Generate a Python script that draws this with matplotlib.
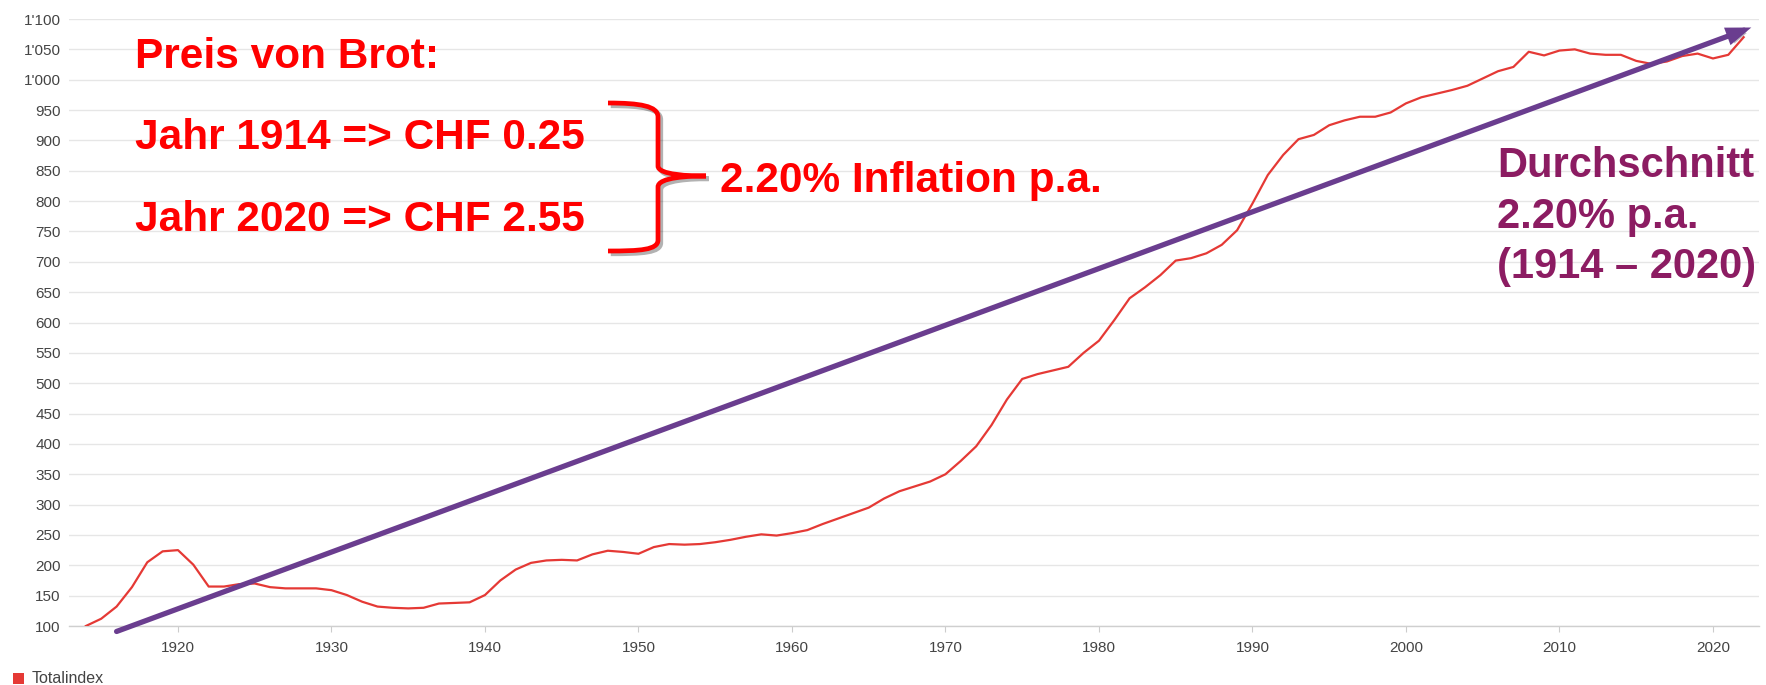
import matplotlib
matplotlib.use("Agg")
import matplotlib.pyplot as plt
import matplotlib.patheffects as pe
from matplotlib.path import Path
from matplotlib.patches import PathPatch, Rectangle
from matplotlib.ticker import FuncFormatter

# Landesindex der Konsumentenpreise, Totalindex (1914 = 100)
years = list(range(1914, 2023))
totalindex = [
    100, 112, 132, 164, 205, 223, 225, 201, 165, 165,   # 1914-1923
    169, 170, 164, 162, 162, 162, 159, 151, 140, 132,   # 1924-1933
    130, 129, 130, 137, 138, 139, 151, 175, 193, 204,   # 1934-1943
    208, 209, 208, 218, 224, 222, 219, 230, 235, 234,   # 1944-1953
    235, 238, 242, 247, 251, 249, 253, 258, 268, 277,   # 1954-1963
    286, 295, 310, 322, 330, 338, 350, 372, 396, 431,   # 1964-1973
    473, 507, 515, 521, 527, 550, 570, 604, 640, 658,   # 1974-1983
    678, 702, 706, 714, 728, 752, 796, 843, 876, 902,   # 1984-1993
    909, 925, 933, 939, 939, 946, 961, 971, 977, 983,   # 1994-2003
    990, 1002, 1014, 1021, 1046, 1040, 1048, 1050, 1043, 1041,  # 2004-2013
    1041, 1031, 1026, 1030, 1039, 1043, 1035, 1041, 1070,       # 2014-2022
]
y_ticks = list(range(100, 1101, 50))
x_ticks = [1920, 1930, 1940, 1950, 1960, 1970, 1980, 1990, 2000, 2010, 2020]
series_label = "Totalindex"

# Durchschnittspfeil (von Hand eingezeichnet)
trend_start = (1916.0, 91)
trend_end = (2022.5, 1086)

RED = "#e53935"
PURPLE = "#6a3d8f"
ANN_RED = "#ff0000"
MAGENTA = "#8c1c62"
FONT = "Liberation Sans"

W, H = 1766, 685
fig = plt.figure(figsize=(W / 100, H / 100), dpi=100)
fx = lambda x: x / W
fy = lambda y: 1 - y / H

ax = fig.add_axes([fx(69), fy(626), (1759 - 69) / W, (626 - 19) / H])
ax.plot(years, totalindex, color=RED, lw=1.6, zorder=3, solid_joinstyle="round")
ax.set_xlim(1912.9, 2023.0)
ax.set_ylim(100, 1100)
ax.set_yticks(y_ticks)
ax.set_xticks(x_ticks)
ax.yaxis.set_major_formatter(FuncFormatter(lambda v, p: f"{int(v):,}".replace(",", "'")))
ax.grid(axis="y", color="#e6e6e6", lw=1.0, zorder=0)
for s in ["top", "right", "left"]:
    ax.spines[s].set_visible(False)
ax.spines["bottom"].set_color("#cfcfcf")
ax.spines["bottom"].set_linewidth(1.0)
ax.tick_params(axis="y", length=0, pad=6, labelsize=11, labelcolor="#444444")
ax.tick_params(axis="x", length=4, width=0.8, color="#cccccc", pad=7,
               labelsize=11, labelcolor="#444444")
for lab in ax.get_xticklabels() + ax.get_yticklabels():
    lab.set_fontfamily(FONT)

# Pfeil mit Schatten
ax.annotate("", xy=trend_end, xytext=trend_start, annotation_clip=False,
            arrowprops=dict(arrowstyle="-|>,head_length=0.55,head_width=0.2",
                            color=PURPLE, lw=3.8, shrinkA=0, shrinkB=0,
                            mutation_scale=20, joinstyle="miter",
                            path_effects=[pe.SimplePatchShadow(offset=(2, -2), alpha=0.3),
                                          pe.Normal()]),
            zorder=5)

# Texte
red_kw = dict(color=ANN_RED, fontsize=30.5, fontweight="bold", family=FONT, va="baseline")
fig.text(fx(135), fy(68), "Preis von Brot:", **red_kw)
fig.text(fx(135), fy(149), "Jahr 1914 => CHF 0.25", **red_kw)
fig.text(fx(135), fy(231), "Jahr 2020 => CHF 2.55", **red_kw)
fig.text(fx(720), fy(192), "2.20% Inflation p.a.", **red_kw)

mag_kw = dict(color=MAGENTA, fontsize=30, fontweight="bold", family=FONT, va="baseline")
fig.text(fx(1497), fy(177), "Durchschnitt", **mag_kw)
fig.text(fx(1497), fy(228), "2.20% p.a.", **mag_kw)
fig.text(fx(1497), fy(278), "(1914 \u2013 2020)", **mag_kw)

# geschweifte Klammer
pts = [(608, 103), (640, 103), (658, 106), (658, 117),
       (658, 166),
       (658, 175), (690, 176), (706, 176),
       (690, 176), (658, 177), (658, 187),
       (658, 240),
       (658, 250), (640, 251), (608, 251)]
codes = [Path.MOVETO, Path.CURVE4, Path.CURVE4, Path.CURVE4,
         Path.LINETO,
         Path.CURVE4, Path.CURVE4, Path.CURVE4,
         Path.CURVE4, Path.CURVE4, Path.CURVE4,
         Path.LINETO,
         Path.CURVE4, Path.CURVE4, Path.CURVE4]
brace = PathPatch(Path([(fx(x), fy(y)) for x, y in pts], codes), transform=fig.transFigure,
                  fill=False, edgecolor=ANN_RED, lw=3.4, capstyle="butt",
                  path_effects=[pe.SimpleLineShadow(offset=(2, -2), alpha=0.3), pe.Normal()])
fig.add_artist(brace)

# Legende
fig.add_artist(Rectangle((fx(13), fy(684)), 11 / W, 11 / H, transform=fig.transFigure,
                         color=RED, lw=0))
fig.text(fx(32), fy(683), series_label, fontsize=11.5, color="#444444", family=FONT,
         va="baseline")

fig.savefig("out.png", dpi=100)
